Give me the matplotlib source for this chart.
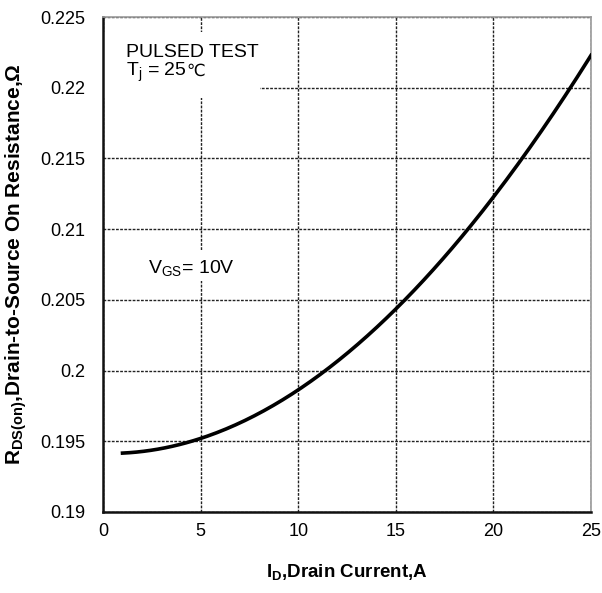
import matplotlib.pyplot as plt
import numpy as np
from matplotlib.patches import Rectangle

plt.rcParams['font.family'] = ['Liberation Sans', 'DejaVu Sans']
plt.rcParams['mathtext.fontset'] = 'custom'
plt.rcParams['mathtext.rm'] = 'Liberation Sans'
plt.rcParams['mathtext.it'] = 'Liberation Sans:italic'
plt.rcParams['mathtext.bf'] = 'Liberation Sans:bold'

# curve
drain_current = [1, 3, 5, 7.5, 10, 12.5, 15, 17.5, 20, 22.5, 25]
r_ds_on = [0.1941, 0.1946, 0.1952, 0.1966, 0.1986, 0.2012, 0.2043,
           0.2082, 0.2122, 0.2170, 0.2223]

x_ticks = [0, 5, 10, 15, 20, 25]
y_ticks = [0.19, 0.195, 0.2, 0.205, 0.21, 0.215, 0.22, 0.225]
y_tick_labels = ['0.19', '0.195', '0.2', '0.205', '0.21', '0.215', '0.22', '0.225']

fig = plt.figure(figsize=(6.02, 5.93), dpi=100)
ax = fig.add_axes([0.1711, 0.1366, 0.8106, 0.8347])

ax.set_xlim(0, 25)
ax.set_ylim(0.19, 0.225)
ax.set_xticks(x_ticks)
ax.set_yticks(y_ticks)
ax.set_yticklabels(y_tick_labels)
ax.tick_params(length=0, labelsize=13)
ax.tick_params(axis='y', pad=13)
ax.tick_params(axis='x', pad=8)

for s in ['left', 'bottom']:
    ax.spines[s].set_linewidth(1.8)
    ax.spines[s].set_color('#111111')
for s in ['top', 'right']:
    ax.spines[s].set_linewidth(1.2)
    ax.spines[s].set_color('#999999')

ax.grid(True, color='#222222', linestyle=(0, (2, 1)), linewidth=1.0)

# smooth curve through the read points
xs = np.linspace(drain_current[0], drain_current[-1], 200)
coef = np.polyfit(drain_current, r_ds_on, 3)
ax.plot(xs, np.polyval(coef, xs), color='black', lw=2.6, zorder=3)

# white boxes behind the notes
ax.add_patch(Rectangle((0.06, 0.2193), 8.0, 0.00463, facecolor='white',
                       edgecolor='none', zorder=2))
ax.add_patch(Rectangle((1.5, 0.2063), 5.5, 0.0022, facecolor='white',
                       edgecolor='none', zorder=2))

ax.text(1.18, 0.22214, 'PULSED TEST', fontsize=14, va='baseline', zorder=4)
tj = ax.text(1.18, 0.22084, r'T$_\mathregular{j}$ = 25', fontsize=14,
             va='baseline', zorder=4)
ax.text(2.29, 0.20691, r'V$_\mathregular{GS}$= 10V', fontsize=14,
        va='baseline', zorder=4)

ax.set_xlabel(r'$\mathbf{I_D}$,Drain Current,A', fontsize=13.5,
              fontweight='bold', labelpad=16)
ax.set_ylabel(r'$\mathbf{R_{DS(on)}}$,Drain-to-Source On Resistance,$\mathbf{\Omega}$',
              fontsize=15, fontweight='bold', labelpad=8)

# degree sign after the Tj text, same baseline
fig.canvas.draw()
bb = tj.get_window_extent()
x_end = ax.transData.inverted().transform((bb.x1, bb.y0))[0]
ax.text(x_end, 0.22084, '℃', fontsize=12,
        family=['DejaVu Sans Condensed', 'DejaVu Sans'],
        va='baseline', zorder=4)

fig.savefig('out.png', dpi=100)
